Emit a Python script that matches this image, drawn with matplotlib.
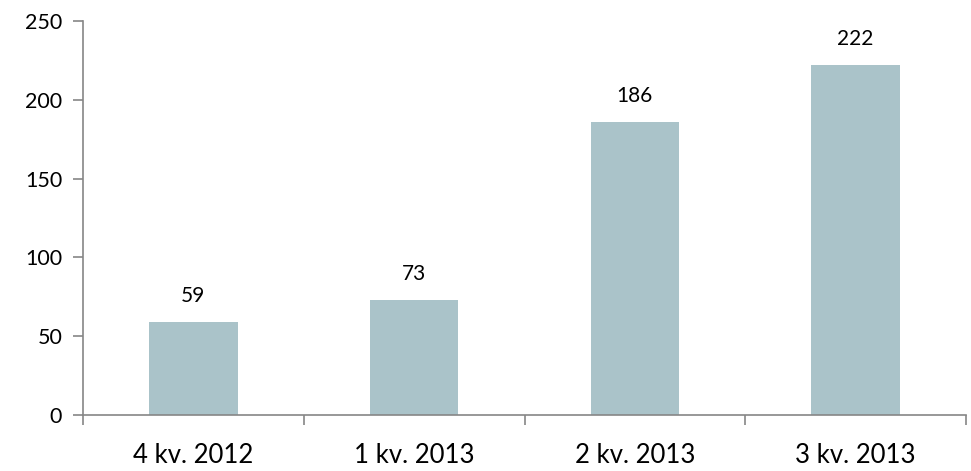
import matplotlib
matplotlib.use('Agg')
import matplotlib.pyplot as plt
import numpy as np

categories = ['4 kv. 2012', '1 kv. 2013', '2 kv. 2013', '3 kv. 2013']
values = [59, 73, 186, 222]
y_ticks = [0, 50, 100, 150, 200, 250]

plt.rcParams['font.family'] = ['Lato', 'DejaVu Sans']

fig = plt.figure(figsize=(9.71, 4.71), dpi=100)
ax = fig.add_axes([83 / 971, 56 / 471, (966 - 83) / 971, (415 - 21) / 471])

x = np.arange(len(categories))
ax.bar(x, values, width=0.4, color='#aac3c9', zorder=2)

for xi, v in zip(x, values):
    ax.text(xi, v + 10, str(v), ha='center', va='bottom', fontsize=15, color='black')

ax.set_xlim(-0.5, len(categories) - 0.5)
ax.set_ylim(0, 250)
ax.set_yticks(y_ticks)
ax.set_yticklabels([str(t) for t in y_ticks], fontsize=15.5)

ax.set_xticks(x)
ax.set_xticklabels(categories, fontsize=18.5)
ax.tick_params(axis='x', length=0, pad=20.5)
ax.set_xticks(np.arange(len(categories) + 1) - 0.5, minor=True)
ax.tick_params(axis='x', which='minor', length=7, color='#868686', width=1.2)
ax.tick_params(axis='y', length=7, color='#868686', width=1.2, pad=8)

for side in ['top', 'right']:
    ax.spines[side].set_visible(False)
for side in ['left', 'bottom']:
    ax.spines[side].set_color('#868686')
    ax.spines[side].set_linewidth(1.2)

fig.savefig('out.png', dpi=100)
